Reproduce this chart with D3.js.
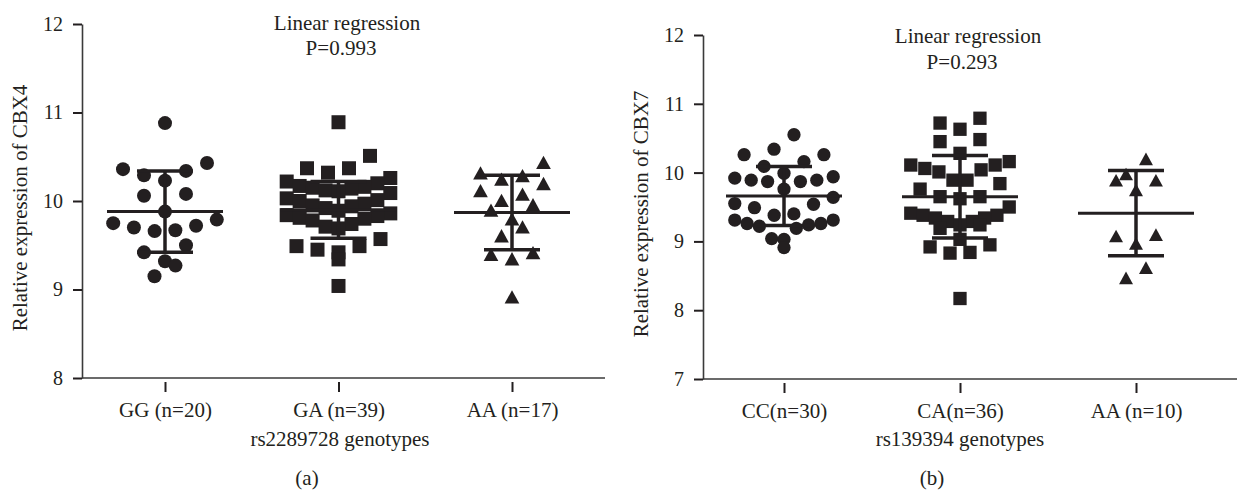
<!DOCTYPE html>
<html><head><meta charset="utf-8">
<script src="https://cdn.jsdelivr.net/npm/d3@7"></script>
<style>
body{margin:0;background:#fff}
svg{display:block}
text{font-family:"Liberation Serif","Times New Roman",serif;fill:#231f20}
</style>
</head><body>
<svg id="chart" width="1237" height="490"></svg>
<script>
// ---------- Panel (a): CBX4 by rs2289728 ----------
const catsA = ["GG (n=20)", "GA (n=39)", "AA (n=17)"];
const ggA = [10.88, 10.43, 10.36, 10.34, 10.29, 10.23, 10.08, 10.06, 9.88, 9.79, 9.75, 9.72, 9.70, 9.67, 9.66, 9.50, 9.42, 9.32, 9.27, 9.15];
const gaA = [10.89, 10.51, 10.37, 10.37, 10.32, 10.26, 10.22, 10.20, 10.17, 10.16, 10.15, 10.14, 10.12, 10.11, 10.09, 10.03, 10.01, 10.00, 9.97, 9.95, 9.94, 9.92, 9.89, 9.86, 9.84, 9.83, 9.81, 9.80, 9.78, 9.74, 9.71, 9.69, 9.57, 9.49, 9.49, 9.45, 9.42, 9.34, 9.04];
const aaA = [10.43, 10.31, 10.28, 10.24, 10.19, 10.11, 10.07, 10.00, 9.95, 9.89, 9.79, 9.70, 9.60, 9.41, 9.39, 9.34, 8.91];
const meansA = [9.88, 9.90, 9.87];
const sdsA = [0.46, 0.32, 0.42];
const yTicksA = [8, 9, 10, 11, 12];

// ---------- Panel (b): CBX7 by rs139394 ----------
const catsB = ["CC(n=30)", "CA(n=36)", "AA (n=10)"];
const ccB = [10.55, 10.34, 10.26, 10.26, 10.16, 10.09, 9.99, 9.94, 9.92, 9.89, 9.89, 9.87, 9.87, 9.76, 9.64, 9.55, 9.54, 9.49, 9.40, 9.38, 9.31, 9.31, 9.26, 9.26, 9.24, 9.22, 9.19, 9.04, 9.03, 8.91];
const caB = [10.79, 10.72, 10.63, 10.48, 10.45, 10.28, 10.16, 10.11, 10.11, 10.06, 10.04, 10.01, 9.89, 9.89, 9.84, 9.76, 9.65, 9.65, 9.62, 9.50, 9.41, 9.38, 9.38, 9.34, 9.34, 9.29, 9.29, 9.24, 9.24, 9.19, 9.03, 8.95, 8.92, 8.84, 8.83, 8.17];
const aaB = [10.19, 9.97, 9.88, 9.88, 9.74, 9.09, 9.07, 8.96, 8.61, 8.46];
const meansB = [9.66, 9.65, 9.41];
const sdsB = [0.43, 0.60, 0.62];
const yTicksB = [7, 8, 9, 10, 11, 12];

const INK = "#231f20";
const svg = d3.select("#chart");

// GraphPad-like row spreading of points
function swarm(values, y, cx, m) {
  const pts = values.map(v => ({v, y: y(v)})).sort((a, b) => a.y - b.y);
  const rowH = 1.45 * m, maxN = 9, maxW = 7.4 * m, baseS = 1.5 * m;
  const rows = []; let cur = null;
  pts.forEach(p => {
    if (!cur || p.y - cur[0].y > rowH || cur.length >= maxN) { cur = [p]; rows.push(cur); }
    else cur.push(p);
  });
  rows.forEach(r => {
    const n = r.length;
    const s = n > 1 ? Math.min(baseS, maxW / (n - 1)) : 0;
    const offs = d3.range(n).map(i => (i - (n - 1) / 2) * s)
      .sort((a, b) => (Math.abs(a) - Math.abs(b)) || (a - b));
    r.slice().sort((a, b) => b.y - a.y).forEach((p, i) => { p.x = cx + offs[i]; });
  });
  return pts;
}

function marker(g, shape, x, y, m) {
  if (shape === 0) {
    g.append("circle").attr("cx", x).attr("cy", y).attr("r", m / 2).attr("fill", INK);
  } else if (shape === 1) {
    g.append("rect").attr("x", x - m / 2).attr("y", y - m / 2).attr("width", m).attr("height", m).attr("fill", INK);
  } else {
    const w = m * 1.05, h = m * 0.95;
    g.append("path").attr("d", `M${x},${y - h * 0.55}L${x + w / 2},${y + h * 0.45}L${x - w / 2},${y + h * 0.45}Z`).attr("fill", INK);
  }
}

function drawPanel(cfg) {
  const g = svg.append("g");
  const y = d3.scaleLinear().domain(cfg.yDomain).range(cfg.yRange);
  const x = d3.scalePoint().domain(cfg.cats).range(cfg.xRange);

  // y axis
  const ya = g.append("g").attr("transform", `translate(${cfg.axisX},0)`)
    .call(d3.axisLeft(y).tickValues(cfg.yTicks).tickFormat(d3.format("d")).tickSize(9).tickSizeOuter(0).tickPadding(10));
  ya.select(".domain").attr("stroke", "#3a3a3a").attr("stroke-width", 1.6);
  ya.selectAll(".tick line").attr("stroke", INK).attr("stroke-width", 2);
  ya.selectAll(".tick text").style("font-size", "20px").attr("fill", INK);

  // x axis line
  g.append("line").attr("x1", cfg.axisX).attr("x2", cfg.axisEnd)
    .attr("y1", cfg.yRange[0]).attr("y2", cfg.yRange[0])
    .attr("stroke", "#3a3a3a").attr("stroke-width", 1.6);
  const xa = g.append("g").attr("transform", `translate(0,${cfg.yRange[0] + 4})`)
    .call(d3.axisBottom(x).tickSize(10).tickPadding(10));
  xa.select(".domain").remove();
  xa.selectAll(".tick line").attr("stroke", INK).attr("stroke-width", 2);
  xa.selectAll(".tick text").style("font-size", "21px").attr("fill", INK);

  // data
  cfg.series.forEach((vals, i) => {
    const cx = x(cfg.cats[i]);
    const m = cfg.marker;
    swarm(vals, y, cx, m).forEach(p => marker(g, i, p.x, p.y, m));
    const mean = cfg.means[i], sd = cfg.sds[i];
    g.append("line").attr("x1", cx).attr("x2", cx).attr("y1", y(mean - sd)).attr("y2", y(mean + sd))
      .attr("stroke", INK).attr("stroke-width", 3.5);
    [mean - sd, mean + sd].forEach(v => g.append("line").attr("x1", cx - 28).attr("x2", cx + 28)
      .attr("y1", y(v)).attr("y2", y(v)).attr("stroke", INK).attr("stroke-width", 3.5));
    g.append("line").attr("x1", cx - 58).attr("x2", cx + 58).attr("y1", y(mean)).attr("y2", y(mean))
      .attr("stroke", INK).attr("stroke-width", 3);
  });

  // texts
  const txt = (pos, s, size) => g.append("text").attr("x", pos[0]).attr("y", pos[1]).attr("text-anchor", "middle")
    .attr("dominant-baseline", "central").style("font-size", size + "px").text(s);
  txt(cfg.t1, "Linear regression", 21);
  txt(cfg.t2, cfg.pText, 21);
  txt(cfg.xTitle, cfg.xTitleText, 21);
  txt(cfg.lab, cfg.labText, 21);
  g.append("text").attr("transform", `translate(${cfg.yTitle[0]},${cfg.yTitle[1]}) rotate(-90)`)
    .attr("text-anchor", "middle").attr("dominant-baseline", "central").style("font-size", "21px")
    .text(cfg.yTitleText);
}

drawPanel({
  cats: catsA, series: [ggA, gaA, aaA], means: meansA, sds: sdsA, yTicks: yTicksA,
  yDomain: [8, 12], yRange: [378, 24], xRange: [165, 512], axisX: 82, axisEnd: 605, marker: 14,
  t1: [347, 23], t2: [341, 48], pText: "P=0.993",
  xTitle: [340, 439], xTitleText: "rs2289728 genotypes",
  lab: [307, 478], labText: "(a)",
  yTitle: [20, 208], yTitleText: "Relative expression of CBX4"
});
drawPanel({
  cats: catsB, series: [ccB, caB, aaB], means: meansB, sds: sdsB, yTicks: yTicksB,
  yDomain: [7, 12], yRange: [379, 35], xRange: [784, 1136], axisX: 703, axisEnd: 1237, marker: 13.3,
  t1: [968, 36], t2: [962, 62], pText: "P=0.293",
  xTitle: [960, 439], xTitleText: "rs139394 genotypes",
  lab: [932, 478], labText: "(b)",
  yTitle: [641, 214], yTitleText: "Relative expression of CBX7"
});
</script>
</body></html>
